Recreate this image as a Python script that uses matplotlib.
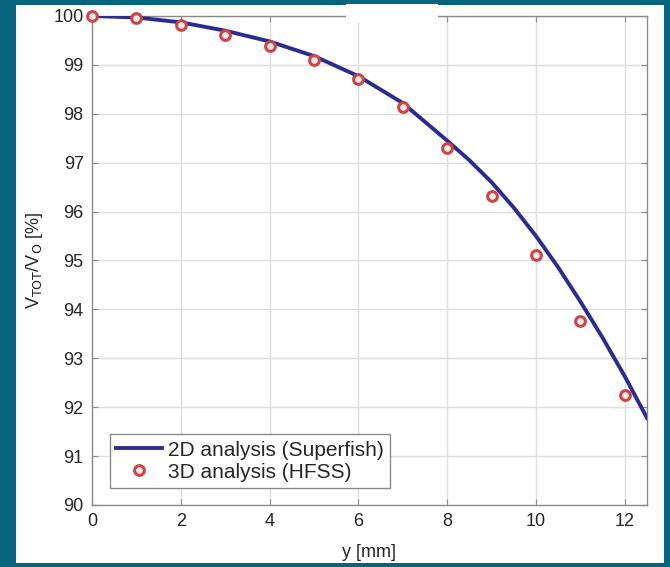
import matplotlib; matplotlib.use("Agg")
import matplotlib.pyplot as plt
from matplotlib.patches import Rectangle

# ---- datos ----
y_line = [0, 1, 2, 3, 4, 5, 6, 7, 8, 8.5, 9, 9.5, 10, 10.5, 11, 11.5, 12, 12.5]
v_line = [100.0, 99.97, 99.87, 99.70, 99.48, 99.18, 98.77, 98.22, 97.45, 97.05, 96.60, 96.08,
          95.50, 94.86, 94.16, 93.42, 92.63, 91.78]
y_pts = [0, 1, 2, 3, 4, 5, 6, 7, 8, 9, 10, 11, 12]
v_pts = [100.0, 99.95, 99.82, 99.61, 99.39, 99.10, 98.71, 98.14, 97.31, 96.31, 95.12, 93.76, 92.25]
xticks = [0, 2, 4, 6, 8, 10, 12]
yticks = [90, 91, 92, 93, 94, 95, 96, 97, 98, 99, 100]
lbl_line = "2D analysis (Superfish)"
lbl_pts = "3D analysis (HFSS)"

TEAL = "#06657c"
TXT = "#262626"
W, H = 670, 567
plt.rcParams["font.family"] = ["Liberation Sans", "DejaVu Sans"]

fig = plt.figure(figsize=(W/100, H/100), dpi=100, facecolor=TEAL)
# panel blanco (detras de los ejes)
fig.add_artist(Rectangle((16/W, 1-563/H), (664-16)/W, (563-5)/H, transform=fig.transFigure,
                         facecolor="white", edgecolor="none", zorder=-5))
ax = fig.add_axes([92/W, 1-505/H, (647-92)/W, (505-16)/H])
ax.set_facecolor("white")

ax.plot(y_line, v_line, color="#2b2b93", lw=2.8, label=lbl_line, zorder=3)
ax.plot(y_pts, v_pts, ls="none", marker="o", ms=7, mew=2.2, mec="#cc4444", mfc="#fbe9e9",
        label=lbl_pts, zorder=4, clip_on=False)

ax.set_xlim(0, 12.5); ax.set_ylim(90, 100)
ax.set_xticks(xticks); ax.set_yticks(yticks)
ax.grid(True, color="#dedede", lw=1.0)
ax.set_axisbelow(True)
for s in ax.spines.values():
    s.set_color("#8a8a8a"); s.set_linewidth(1.0)
ax.tick_params(direction="in", length=4, color="#8a8a8a", labelsize=13, labelcolor=TXT,
               top=True, right=True, pad=6)
ax.set_xlabel("y [mm]", fontsize=13, color=TXT, labelpad=10)
ax.set_ylabel(r"V$_{\rm TOT}$/V$_{\rm O}$ [%]", fontsize=13, color=TXT, labelpad=6)

leg = ax.legend(loc="lower left", bbox_to_anchor=(0.032, 0.035), fontsize=15, frameon=True,
                fancybox=False, edgecolor="#8a8a8a", framealpha=1, borderaxespad=0,
                handlelength=2.2, handletextpad=0.3, borderpad=0.3, labelspacing=0.15)
for t in leg.get_texts():
    t.set_color(TXT)

# parche blanco arriba (tapa el borde superior)
fig.add_artist(Rectangle((346/W, 1-23/H), (438-346)/W, 19/H, transform=fig.transFigure,
                         facecolor="white", edgecolor="none", zorder=10))

fig.savefig("out.png", dpi=100, facecolor=TEAL)
